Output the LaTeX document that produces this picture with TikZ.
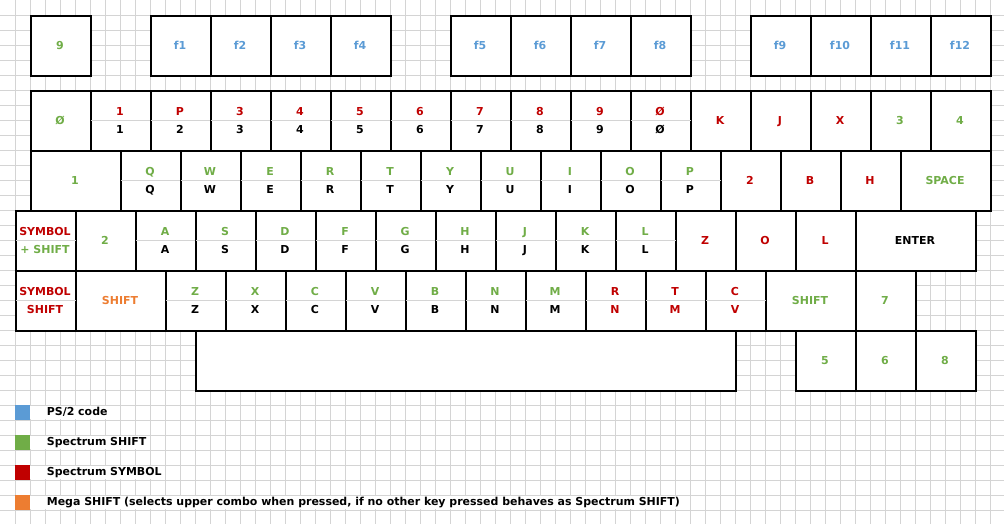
\documentclass[tikz,border=0pt]{standalone}
\usepackage{fontspec}
\setmainfont{DejaVu Sans}
\definecolor{psblue}{HTML}{5B9BD5}
\definecolor{specgreen}{HTML}{70AD47}
\definecolor{specred}{HTML}{C00000}
\definecolor{megaorange}{HTML}{ED7D31}
\definecolor{gridgray}{HTML}{D4D4D4}
\newcommand{\keyfont}{\fontsize{10.4}{12}\selectfont\bfseries}
\tikzset{
  key/.style={draw=black, line width=1.5pt, fill=white, anchor=north west, inner sep=0pt, minimum width=2cm, minimum height=2cm},
  divider/.style={draw=gridgray, line width=0.9pt, shorten <=0.75pt, shorten >=0.75pt},
  lbl/.style={anchor=base, inner sep=0pt, font=\keyfont},
  gridline/.style={draw=gridgray, line width=0.9pt},
}
\begin{document}
\begin{tikzpicture}[x=0.5cm, y=-0.5cm]
	\useasboundingbox (0,0) rectangle (66.933,34.933);
	\fill[white] (0,0) rectangle (66.933,34.933);
	\draw[gridline, step=0.5cm] (0.01,34.933) grid (66.933,0.01);
	% keys with one label
	\foreach \kx/\ky/\kw/\kcol/\ktxt [count=\i] in {2/1/4/specgreen/9, 10/1/4/psblue/f1, 14/1/4/psblue/f2, 18/1/4/psblue/f3, 22/1/4/psblue/f4,
	  30/1/4/psblue/f5, 34/1/4/psblue/f6, 38/1/4/psblue/f7, 42/1/4/psblue/f8, 50/1/4/psblue/f9, 54/1/4/psblue/f10, 58/1/4/psblue/f11, 62/1/4/psblue/f12,
	  2/6/4/specgreen/Ø, 46/6/4/specred/K, 50/6/4/specred/J, 54/6/4/specred/X, 58/6/4/specgreen/3, 62/6/4/specgreen/4,
	  2/10/6/specgreen/1, 48/10/4/specred/2, 52/10/4/specred/B, 56/10/4/specred/H, 60/10/6/specgreen/SPACE,
	  5/14/4/specgreen/2, 45/14/4/specred/Z, 49/14/4/specred/O, 53/14/4/specred/L, 57/14/8/black/ENTER,
	  5/18/6/megaorange/SHIFT, 51/18/6/specgreen/SHIFT, 57/18/4/specgreen/7,
	  53/22/4/specgreen/5, 57/22/4/specgreen/6, 61/22/4/specgreen/8} {
	  \node[key, minimum width=\kw*0.5cm] (single\i) at (\kx,\ky) {};
	  \node[lbl, text=\kcol] (single\i-l) at (\kx+\kw/2,\ky+2.287) {\ktxt};
	}
	\node[key, minimum width=18cm] (spacebar) at (13,22) {};
	% number row
	\foreach \kx/\sym/\num [count=\i] in {6/1/1, 10/P/2, 14/3/3, 18/4/4, 22/5/5, 26/6/6, 30/7/7, 34/8/8, 38/9/9, 42/Ø/Ø} {
	  \node[key] (num\i) at (\kx,6) {};
	  \draw[divider] (num\i.west) -- (num\i.east);
	  \node[lbl, text=specred] (num\i-sym) at (\kx+2,7.667) {\sym};
	  \node[lbl] (num\i-key) at (\kx+2,8.933) {\num};
	}
	% letter rows
	\foreach \ky/\kx/\keys in {10/8/{Q,W,E,R,T,Y,U,I,O,P}, 14/9/{A,S,D,F,G,H,J,K,L}, 18/11/{Z,X,C,V,B,N,M}} {
	  \foreach \k [count=\i from 0] in \keys {
	    \node[key] (key\k\ky) at (\kx+4*\i,\ky) {};
	    \draw[divider] (key\k\ky.west) -- (key\k\ky.east);
	    \node[lbl, text=specgreen] (key\k\ky-up) at (\kx+4*\i+2,\ky+1.667) {\k};
	    \node[lbl] (key\k\ky-dn) at (\kx+4*\i+2,\ky+2.933) {\k};
	  }
	}
	% other keys with two labels
	\foreach \kx/\ky/\upcol/\uptxt/\dncol/\dntxt [count=\i] in {1/14/specred/SYMBOL/specgreen/+ SHIFT, 1/18/specred/SYMBOL/specred/SHIFT,
	  39/18/specred/R/specred/N, 43/18/specred/T/specred/M, 47/18/specred/C/specred/V} {
	  \node[key] (double\i) at (\kx,\ky) {};
	  \draw[divider] (double\i.west) -- (double\i.east);
	  \node[lbl, text=\upcol] (double\i-up) at (\kx+2,\ky+1.667) {\uptxt};
	  \node[lbl, text=\dncol] (double\i-dn) at (\kx+2,\ky+2.933) {\dntxt};
	}
	% legend
	\fill[psblue] (1,27) rectangle (2,28);
	\fill[specgreen] (1,29) rectangle (2,30);
	\fill[specred] (1,31) rectangle (2,32);
	\fill[megaorange] (1,33) rectangle (2,34);
	\fill[white] (2,27.06) rectangle (8,27.94);
	\fill[white] (2,29.06) rectangle (10,29.94);
	\fill[white] (2,31.06) rectangle (11,31.94);
	\fill[white] (2,33.06) rectangle (46,33.94);
	\node[anchor=base west, inner sep=0pt, font=\keyfont] (leg-ps2) at (3.11,27.67) {PS/2 code};
	\node[anchor=base west, inner sep=0pt, font=\keyfont] (leg-shift) at (3.11,29.67) {Spectrum SHIFT};
	\node[anchor=base west, inner sep=0pt, font=\keyfont] (leg-symbol) at (3.11,31.67) {Spectrum SYMBOL};
	\node[anchor=base west, inner sep=0pt, font=\keyfont] (leg-mega) at (3.11,33.67) {Mega SHIFT (selects upper combo when pressed, if no other key pressed behaves as Spectrum SHIFT)};
\end{tikzpicture}
\end{document}
